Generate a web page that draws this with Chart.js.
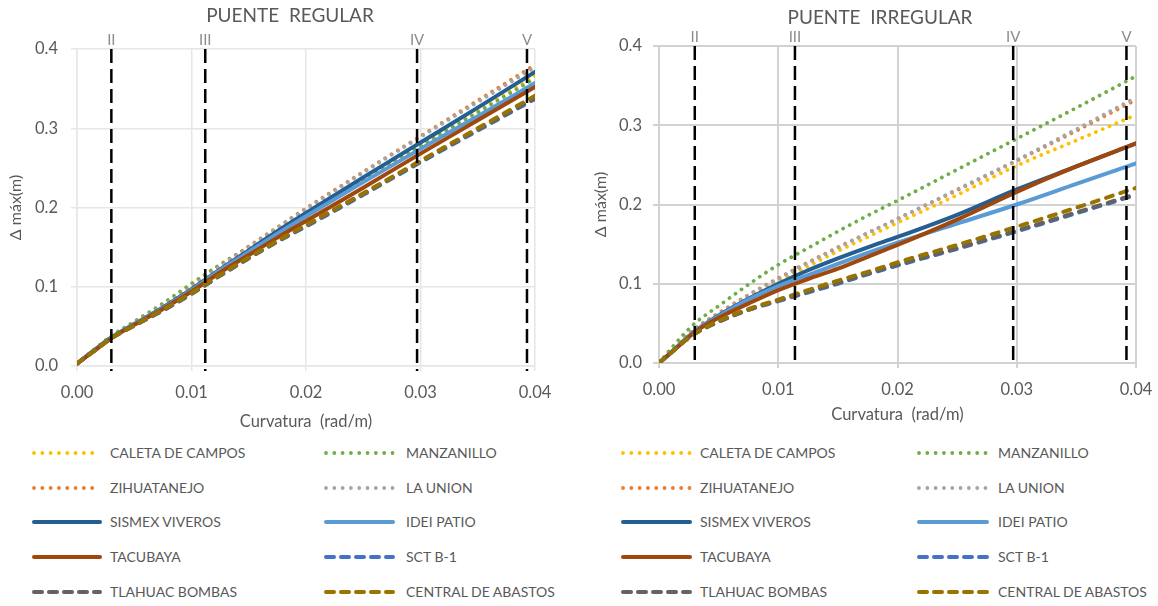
<!DOCTYPE html>
<html>
<head>
<meta charset="utf-8">
<script src="https://cdn.jsdelivr.net/npm/chart.js@4.4.1/dist/chart.umd.min.js"></script>
<style>
  html, body { margin: 0; padding: 0; background: #ffffff; }
  body { width: 1158px; height: 606px; position: relative; overflow: hidden; font-family: Lato, "Open Sans", sans-serif; }
  canvas { position: absolute; top: 0; }
  .lg-item { position: absolute; height: 0; }
  .lg-item svg { position: absolute; top: -6px; overflow: visible; }
  .lg-item span { position: absolute; top: 0; transform: translateY(-50%); white-space: nowrap; font-size: 14px; color: #595959; line-height: 16px; }
</style>
</head>
<body>
<canvas id="regular" width="579" height="440" style="left:0"></canvas>
<canvas id="irregular" width="579" height="440" style="left:579px"></canvas>
<div id="legend-regular"></div>
<div id="legend-irregular"></div>
<script>
// Series names, in legend order (row by row, two columns)
const seriesNames = ['CALETA DE CAMPOS', 'MANZANILLO', 'ZIHUATANEJO', 'LA UNION', 'SISMEX VIVEROS',
                     'IDEI PATIO', 'TACUBAYA', 'SCT B-1', 'TLAHUAC BOMBAS', 'CENTRAL DE ABASTOS'];

// Axis ticks
const xTicks = [0, 0.01, 0.02, 0.03, 0.04];
const yTicks = [0, 0.1, 0.2, 0.3, 0.4];

// Damage-state limits (curvature, rad/m)
const limitLabels = ['II', 'III', 'IV', 'V'];
const limitsRegular = [0.0030, 0.0112, 0.0297, 0.0393];
const limitsIrregular = [0.0030, 0.0114, 0.0297, 0.0392];

// PUENTE REGULAR: curvature (rad/m) and max displacement (m)
const curvRegular = [0, 0.0015, 0.003, 0.005, 0.0075, 0.01, 0.0125, 0.015, 0.0175, 0.02, 0.025, 0.03, 0.035, 0.04];
const regCaleta      = [0.003, 0.019, 0.036, 0.053, 0.073, 0.096, 0.120, 0.143, 0.166, 0.188, 0.233, 0.277, 0.321, 0.366];
const regManzanillo  = [0.003, 0.021, 0.038, 0.056, 0.079, 0.104, 0.128, 0.150, 0.172, 0.193, 0.236, 0.278, 0.320, 0.363];
const regZihuatanejo = [0.003, 0.020, 0.036, 0.054, 0.076, 0.100, 0.126, 0.151, 0.175, 0.199, 0.245, 0.290, 0.335, 0.380];
const regLaUnion     = [0.003, 0.020, 0.036, 0.054, 0.076, 0.099, 0.125, 0.150, 0.174, 0.198, 0.244, 0.289, 0.333, 0.377];
const regSismex      = [0.003, 0.020, 0.036, 0.053, 0.074, 0.097, 0.122, 0.146, 0.170, 0.193, 0.238, 0.282, 0.326, 0.371];
const regIdei        = [0.003, 0.020, 0.036, 0.053, 0.073, 0.096, 0.121, 0.144, 0.167, 0.189, 0.232, 0.274, 0.315, 0.357];
const regTacubaya    = [0.003, 0.019, 0.035, 0.052, 0.072, 0.094, 0.118, 0.140, 0.162, 0.183, 0.225, 0.268, 0.310, 0.352];
const regSct         = [0.003, 0.019, 0.035, 0.051, 0.070, 0.091, 0.114, 0.136, 0.157, 0.176, 0.216, 0.257, 0.297, 0.337];
const regTlahuac     = [0.003, 0.019, 0.035, 0.051, 0.070, 0.091, 0.114, 0.136, 0.157, 0.177, 0.217, 0.258, 0.298, 0.338];
const regCentral     = [0.003, 0.019, 0.035, 0.051, 0.071, 0.092, 0.115, 0.137, 0.158, 0.178, 0.218, 0.259, 0.300, 0.341];

// PUENTE IRREGULAR: curvature (rad/m) and max displacement (m)
const curvIrregular = [0, 0.001, 0.002, 0.003, 0.005, 0.0075, 0.01, 0.0125, 0.015, 0.0175, 0.02, 0.025, 0.03, 0.035, 0.04];
const irrCaleta      = [0, 0.014, 0.029, 0.042, 0.061, 0.083, 0.103, 0.122, 0.141, 0.159, 0.177, 0.212, 0.249, 0.281, 0.313];
const irrManzanillo  = [0, 0.018, 0.035, 0.050, 0.072, 0.099, 0.124, 0.145, 0.166, 0.186, 0.205, 0.244, 0.283, 0.322, 0.362];
const irrZihuatanejo = [0, 0.014, 0.029, 0.043, 0.063, 0.086, 0.107, 0.127, 0.146, 0.164, 0.182, 0.218, 0.255, 0.293, 0.332];
const irrLaUnion     = [0, 0.014, 0.029, 0.043, 0.062, 0.085, 0.106, 0.126, 0.145, 0.164, 0.182, 0.219, 0.256, 0.295, 0.335];
const irrSismex      = [0, 0.013, 0.027, 0.040, 0.060, 0.081, 0.100, 0.117, 0.132, 0.146, 0.159, 0.187, 0.219, 0.248, 0.277];
const irrIdei        = [0, 0.013, 0.027, 0.040, 0.059, 0.080, 0.097, 0.111, 0.125, 0.139, 0.152, 0.176, 0.200, 0.226, 0.252];
const irrTacubaya    = [0, 0.013, 0.026, 0.039, 0.057, 0.075, 0.092, 0.106, 0.119, 0.134, 0.149, 0.181, 0.216, 0.248, 0.277];
const irrSct         = [0, 0.013, 0.026, 0.037, 0.052, 0.067, 0.078, 0.089, 0.100, 0.112, 0.123, 0.144, 0.166, 0.189, 0.212];
const irrTlahuac     = [0, 0.013, 0.026, 0.037, 0.052, 0.067, 0.079, 0.090, 0.101, 0.113, 0.124, 0.145, 0.167, 0.190, 0.213];
const irrCentral     = [0, 0.013, 0.026, 0.037, 0.053, 0.068, 0.080, 0.092, 0.104, 0.115, 0.127, 0.149, 0.172, 0.196, 0.221];

// Line styles per series
const seriesStyles = [
  { color: '#FFC000', kind: 'dot' },
  { color: '#70AD47', kind: 'dot' },
  { color: '#ED7D31', kind: 'dot' },
  { color: '#A5A5A5', kind: 'dot' },
  { color: '#255E91', kind: 'solid' },
  { color: '#5B9BD5', kind: 'solid' },
  { color: '#9E480E', kind: 'solid' },
  { color: '#4472C4', kind: 'dash' },
  { color: '#636363', kind: 'dash' },
  { color: '#997300', kind: 'dash' }
];

const FONT = 'Lato, "Open Sans", sans-serif';
const TEXT = '#595959';

function buildDatasets(curv, seriesList) {
  const n = seriesList.length;
  return seriesList.map((vals, i) => {
    const st = seriesStyles[i];
    const ds = {
      label: seriesNames[i],
      data: curv.map((c, k) => ({ x: c, y: vals[k] })),
      borderColor: st.color,
      backgroundColor: st.color,
      pointRadius: 0,
      pointHoverRadius: 0,
      fill: false,
      cubicInterpolationMode: 'monotone',
      order: n - i
    };
    if (st.kind === 'dot') {
      ds.borderWidth = 3.8; ds.borderDash = [0.01, 7.4]; ds.borderCapStyle = 'round';
    } else if (st.kind === 'dash') {
      ds.borderWidth = 4; ds.borderDash = [7, 8]; ds.borderCapStyle = 'round';
    } else {
      ds.borderWidth = 4; ds.borderCapStyle = 'round';
    }
    return ds;
  });
}

// Titles, damage-state markers
const overlayPlugin = {
  id: 'overlay',
  afterDatasetsDraw(chart, args, o) {
    const { ctx, chartArea, scales } = chart;
    ctx.save();
    ctx.strokeStyle = '#000000';
    ctx.lineWidth = 2.5;
    ctx.setLineDash([14, 6]);
    ctx.font = '15px ' + FONT;
    ctx.textAlign = 'center';
    ctx.textBaseline = 'middle';
    o.limits.forEach((v, i) => {
      const x = scales.x.getPixelForValue(v);
      ctx.beginPath();
      ctx.moveTo(x, chartArea.top);
      ctx.lineTo(x, chartArea.bottom + o.extend);
      ctx.stroke();
      ctx.fillStyle = '#8c8c8c';
      ctx.fillText(limitLabels[i], x, chartArea.top - 9);
    });
    ctx.setLineDash([]);
    ctx.fillStyle = TEXT;
    ctx.font = '19px ' + FONT;
    ctx.fillText(o.title, o.titleX, o.titleY);
    ctx.restore();
  }
};

function makeChart(id, curv, seriesList, L) {
  return new Chart(document.getElementById(id), {
    type: 'line',
    data: { datasets: buildDatasets(curv, seriesList) },
    plugins: [overlayPlugin],
    options: {
      responsive: false,
      animation: false,
      events: [],
      layout: { padding: { left: 0, right: L.padRight, top: L.top, bottom: 0 } },
      plugins: {
        legend: { display: false },
        tooltip: { enabled: false },
        title: { display: false },
        overlay: { limits: L.limits, title: L.title, titleX: L.titleX, titleY: L.titleY, extend: L.extend }
      },
      scales: {
        x: {
          type: 'linear', min: 0, max: 0.04,
          afterFit: s => { s.height = 440 - L.bottom; s.paddingLeft = 0; s.paddingRight = 0; },
          afterBuildTicks: s => { s.ticks = xTicks.map(v => ({ value: v })); },
          grid: { color: L.grid, lineWidth: L.gridW, tickLength: 5, drawTicks: true },
          border: { color: L.grid, width: L.gridW },
          ticks: { padding: 12, color: TEXT, font: { family: FONT, size: 16.5 }, callback: v => v.toFixed(2), maxRotation: 0 },
          title: { display: true, text: 'Curvatura  (rad/m)', color: TEXT, font: { family: FONT, size: 16.5 }, padding: { top: 0, bottom: L.xTitlePad } }
        },
        y: {
          type: 'linear', min: 0, max: 0.4,
          afterFit: s => { s.width = L.left; },
          afterBuildTicks: s => { s.ticks = yTicks.map(v => ({ value: v })); },
          grid: { color: L.grid, lineWidth: L.gridW, tickLength: 6 },
          border: { color: L.grid, width: L.gridW },
          ticks: { padding: L.yTickPad, color: TEXT, font: { family: FONT, size: 16.5 }, callback: v => v.toFixed(1) },
          title: { display: true, text: 'Δ máx(m)', color: TEXT, font: { family: FONT, size: 16 }, padding: { top: L.yTitlePad, bottom: 0 } }
        }
      }
    }
  });
}

makeChart('regular', curvRegular,
  [regCaleta, regManzanillo, regZihuatanejo, regLaUnion, regSismex, regIdei, regTacubaya, regSct, regTlahuac, regCentral],
  { left: 77, padRight: 44, top: 49, bottom: 366, grid: '#e6e6e6', gridW: 1.5, limits: limitsRegular,
    title: 'PUENTE  REGULAR', titleX: 290, titleY: 16, extend: 5, xTitlePad: 8, yTitlePad: 6, yTickPad: 13 });

makeChart('irregular', curvIrregular,
  [irrCaleta, irrManzanillo, irrZihuatanejo, irrLaUnion, irrSismex, irrIdei, irrTacubaya, irrSct, irrTlahuac, irrCentral],
  { left: 80, padRight: 22, top: 46, bottom: 363, grid: '#d2d2d2', gridW: 2, limits: limitsIrregular,
    title: 'PUENTE  IRREGULAR', titleX: 301, titleY: 18, extend: 1, xTitlePad: 15, yTitlePad: 12, yTickPad: 11 });

// Two-column legends built from the series list
function buildLegend(id, cols) {
  const host = document.getElementById(id);
  const rowsY = [453, 488, 522, 557, 592];
  seriesNames.forEach((name, i) => {
    const col = cols[i % 2];
    const y = rowsY[Math.floor(i / 2)];
    const st = seriesStyles[i];
    const item = document.createElement('div');
    item.className = 'lg-item';
    item.style.left = '0px';
    item.style.top = y + 'px';
    const w = col.sampleW;
    let dash = '', sw = 4;
    if (st.kind === 'dot') { dash = 'stroke-dasharray="0.01 8.3"'; sw = 3.8; }
    else if (st.kind === 'dash') { dash = 'stroke-dasharray="8 7"'; }
    item.innerHTML =
      '<svg width="' + w + '" height="12" style="left:' + col.sampleX + 'px">' +
      '<line x1="2" y1="6" x2="' + (w - 2) + '" y2="6" stroke="' + st.color + '" stroke-width="' + sw +
      '" stroke-linecap="round" ' + dash + '/></svg>' +
      '<span style="left:' + col.textX + 'px">' + name + '</span>';
    host.appendChild(item);
  });
}
buildLegend('legend-regular', [{ sampleX: 32, sampleW: 70, textX: 110 }, { sampleX: 324, sampleW: 71, textX: 406 }]);
buildLegend('legend-irregular', [{ sampleX: 621, sampleW: 71, textX: 700 }, { sampleX: 917, sampleW: 72, textX: 998 }]);
</script>
</body>
</html>
